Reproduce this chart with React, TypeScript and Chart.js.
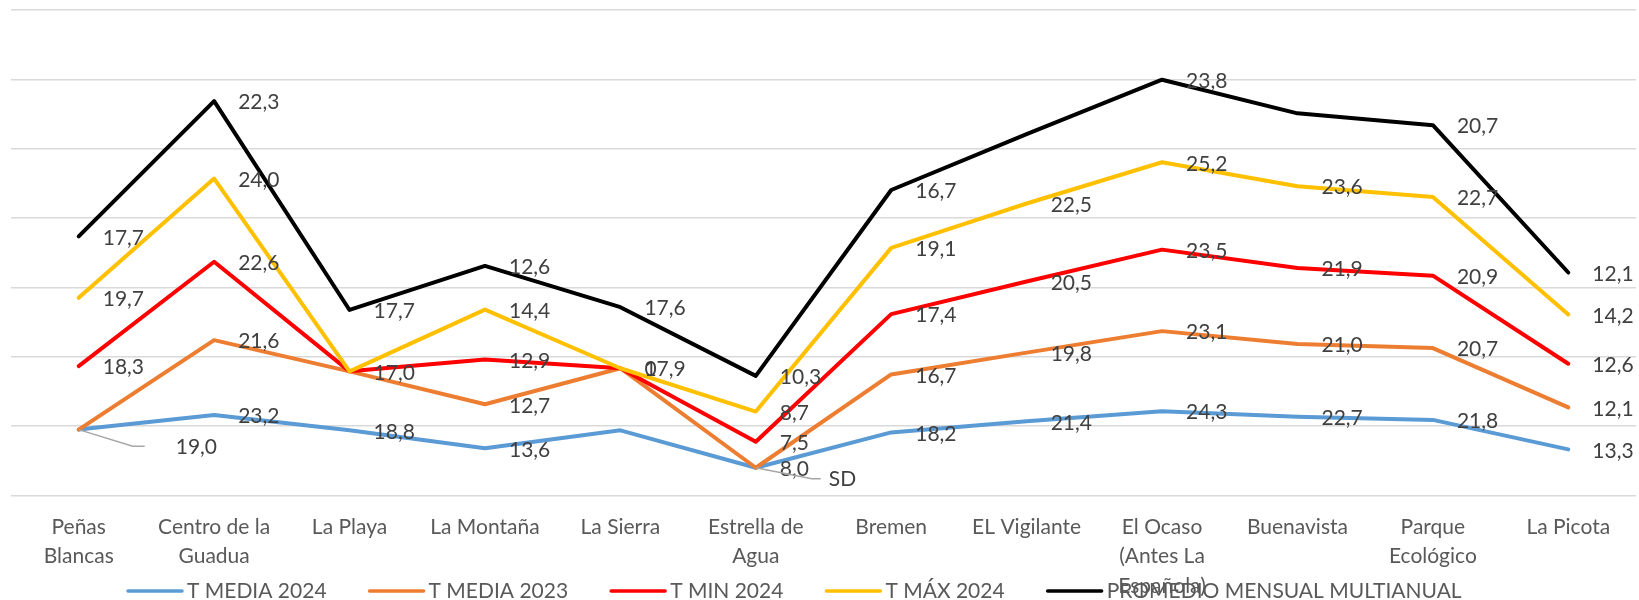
import React, { useEffect, useRef } from "react";
import { Chart, registerables } from "chart.js";

Chart.register(...registerables);

// ---------- DATA ----------
const categories: (string | string[])[] = [
  ["Peñas", "Blancas"],
  ["Centro de la", "Guadua"],
  "La Playa",
  "La Montaña",
  "La Sierra",
  ["Estrella de", "Agua"],
  "Bremen",
  "EL Vigilante",
  ["El Ocaso", "(Antes La", "Española)"],
  "Buenavista",
  ["Parque", "Ecológico"],
  "La Picota",
];

const seriesNames = [
  "T MEDIA 2024",
  "T MEDIA 2023",
  "T MIN 2024",
  "T MÁX 2024",
  "PROMEDIO MENSUAL MULTIANUAL",
];

// stacked line values (each series adds on top of the previous ones)
const tMedia2024 = [19.0, 23.2, 18.8, 13.6, 18.8, 8.0, 18.2, 21.4, 24.3, 22.7, 21.8, 13.3];
const tMedia2023 = [0, 21.6, 17.0, 12.7, 17.9, 0, 16.7, 19.8, 23.1, 21.0, 20.7, 12.1];
const tMin2024 = [18.3, 22.6, 0, 12.9, 0, 7.5, 17.4, 20.5, 23.5, 21.9, 20.9, 12.6];
const tMax2024 = [19.7, 24.0, 0, 14.4, 0, 8.7, 19.1, 22.5, 25.2, 23.6, 22.7, 14.2];
const promedioMultianual = [17.7, 22.3, 17.7, 12.6, 17.6, 10.3, 16.7, 20.0, 23.8, 21.0, 20.7, 12.1];

// data label texts as shown in the chart (null = no label)
const tMedia2024Labels = ["19,0", "23,2", "18,8", "13,6", null, "8,0", "18,2", "21,4", "24,3", "22,7", "21,8", "13,3"];
const tMedia2023Labels = [null, "21,6", "17,0", "12,7", "17,9", "SD", "16,7", "19,8", "23,1", "21,0", "20,7", "12,1"];
const tMin2024Labels = ["18,3", "22,6", null, "12,9", null, "7,5", "17,4", "20,5", "23,5", "21,9", "20,9", "12,6"];
const tMax2024Labels = ["19,7", "24,0", null, "14,4", "0", "8,7", "19,1", "22,5", "25,2", "23,6", "22,7", "14,2"];
const promedioLabels = ["17,7", "22,3", "17,7", "12,6", "17,6", "10,3", "16,7", null, "23,8", null, "20,7", "12,1"];

const yMin = 0;
const yMax = 140;
const yStep = 20;

// ---------- STYLE ----------
const seriesColors = ["#5B9BD5", "#ED7D31", "#FF0000", "#FFC000", "#000000"];
const FONT = "Lato, 'Open Sans', sans-serif";
const FONT_SIZE = 21;
const LABEL_COLOR = "#404040";
const AXIS_COLOR = "#595959";
const GRID_COLOR = "#d9d9d9";

const seriesValues = [tMedia2024, tMedia2023, tMin2024, tMax2024, promedioMultianual];
const seriesLabels = [tMedia2024Labels, tMedia2023Labels, tMin2024Labels, tMax2024Labels, promedioLabels];

// cumulative (stacked) values
const stackedValues: number[][] = seriesValues.map((_, si) =>
  categories.map((_, ci) => {
    let s = 0;
    for (let k = 0; k <= si; k++) s += seriesValues[k][ci];
    return s;
  })
);

// labels that were dragged away with a leader line
const movedLabels = [
  { series: 0, index: 0, leader: [[54, 16.7], [66, 16.7]], dx: 97, dy: 17.7 },
  { series: 1, index: 5, leader: [[56, 11], [65, 11]], dx: 73, dy: 11.7 },
];

const valueLabelPlugin = {
  id: "valueLabels",
  afterDatasetsDraw(chart: any) {
    const ctx = chart.ctx as CanvasRenderingContext2D;
    ctx.save();
    ctx.font = `${FONT_SIZE}px ${FONT}`;
    ctx.textBaseline = "middle";
    ctx.textAlign = "left";
    chart.data.datasets.forEach((_: any, di: number) => {
      const meta = chart.getDatasetMeta(di);
      const texts = seriesLabels[di];
      meta.data.forEach((pt: any, i: number) => {
        const t = texts[i];
        if (!t) return;
        const mv = movedLabels.find((m) => m.series === di && m.index === i);
        if (mv) {
          ctx.strokeStyle = "#a6a6a6";
          ctx.lineWidth = 1.5;
          ctx.beginPath();
          ctx.moveTo(pt.x, pt.y);
          mv.leader.forEach(([lx, ly]) => ctx.lineTo(pt.x + lx, pt.y + ly));
          ctx.stroke();
          ctx.fillStyle = LABEL_COLOR;
          ctx.fillText(t, pt.x + mv.dx, pt.y + mv.dy);
        } else {
          ctx.fillStyle = LABEL_COLOR;
          ctx.fillText(t, pt.x + 24, pt.y + 1.5);
        }
      });
    });
    ctx.restore();
  },
};

const legendPlugin = {
  id: "customLegend",
  afterDraw(chart: any) {
    const ctx = chart.ctx as CanvasRenderingContext2D;
    ctx.save();
    ctx.font = `${FONT_SIZE}px ${FONT}`;
    ctx.textBaseline = "middle";
    ctx.textAlign = "left";
    const y = 591;
    const lineLen = 54;
    const gapLineText = 5;
    const gapItems = 43;
    let x = 128;
    seriesNames.forEach((name, i) => {
      ctx.strokeStyle = seriesColors[i];
      ctx.lineWidth = 3.5;
      ctx.lineCap = "round";
      ctx.beginPath();
      ctx.moveTo(x, y);
      ctx.lineTo(x + lineLen, y);
      ctx.stroke();
      ctx.fillStyle = AXIS_COLOR;
      const tx = x + lineLen + gapLineText;
      ctx.fillText(name, tx, y);
      x = tx + ctx.measureText(name).width + gapItems;
    });
    ctx.restore();
  },
};

export default function App() {
  const canvasRef = useRef<HTMLCanvasElement | null>(null);

  useEffect(() => {
    if (!canvasRef.current) return;
    const chart = new Chart(canvasRef.current, {
      type: "line",
      data: {
        labels: categories as any,
        datasets: seriesNames.map((name, i) => ({
          label: name,
          data: stackedValues[i],
          borderColor: seriesColors[i],
          backgroundColor: seriesColors[i],
          borderWidth: 4,
          pointRadius: 0,
          pointHoverRadius: 0,
          tension: 0,
          fill: false,
          borderJoinStyle: "round" as const,
          borderCapStyle: "round" as const,
          order: seriesNames.length - i,
        })),
      },
      options: {
        responsive: false,
        animation: false,
        events: [],
        layout: { padding: { left: 11, right: 3, top: 10, bottom: 0 } },
        plugins: {
          legend: { display: false },
          tooltip: { enabled: false },
          title: { display: false },
        },
        scales: {
          x: {
            offset: true,
            grid: { display: false, drawTicks: false },
            border: { display: false },
            ticks: {
              color: AXIS_COLOR,
              font: { family: FONT, size: FONT_SIZE, lineHeight: 1.4 },
              padding: 17,
              maxRotation: 0,
              autoSkip: false,
            },
            afterFit(scale: any) {
              scale.height = 104.5;
            },
          },
          y: {
            min: yMin,
            max: yMax,
            ticks: { display: false, stepSize: yStep },
            grid: { color: GRID_COLOR, lineWidth: 1.5, drawTicks: false },
            border: { display: false },
          },
        },
      },
      plugins: [valueLabelPlugin, legendPlugin],
    });
    return () => chart.destroy();
  }, []);

  return (
    <div style={{ position: "fixed", left: 0, top: 0, width: 1639, height: 600, background: "#ffffff" }}>
      <canvas ref={canvasRef} width={1639} height={600} style={{ display: "block" }} />
    </div>
  );
}
